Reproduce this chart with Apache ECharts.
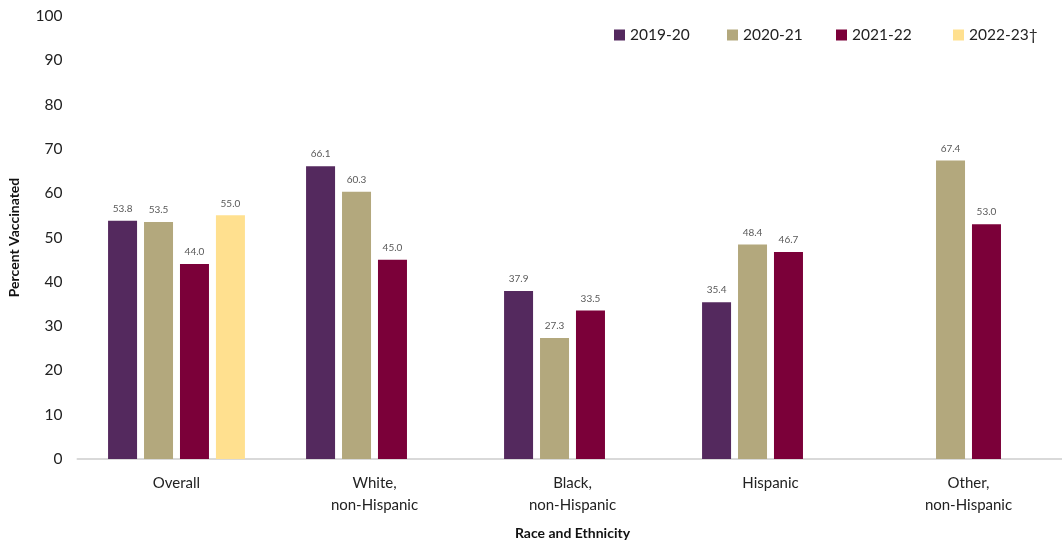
<!DOCTYPE html>
<html><head><meta charset="utf-8">
<script src="https://cdn.jsdelivr.net/npm/echarts@6/dist/echarts.min.js"></script>
<style>html,body{margin:0;padding:0;background:#fff}#c{width:1062px;height:540px}</style>
</head><body><div id="c"></div>
<script>
const categories = ['Overall', 'White,\nnon-Hispanic', 'Black,\nnon-Hispanic', 'Hispanic', 'Other,\nnon-Hispanic'];
const seriesNames = ['2019-20', '2020-21', '2021-22', '2022-23†'];
const s2019 = [53.8, 66.1, 37.9, 35.4, null];
const s2020 = [53.5, 60.3, 27.3, 48.4, 67.4];
const s2021 = [44.0, 45.0, 33.5, 46.7, 53.0];
const s2022 = [55.0, null, null, null, null];
const colors = ['#54295E', '#B3A87D', '#7B0039', '#FFE08F'];
const yTicks = [0, 10, 20, 30, 40, 50, 60, 70, 80, 90, 100];

const font = 'Lato, "Open Sans", sans-serif';
const data = [s2019, s2020, s2021, s2022];
const legendLefts = [614, 727, 836, 953];
const chart = echarts.init(document.getElementById('c'));
chart.setOption({
  animation: false,
  textStyle: { fontFamily: font },
  legend: seriesNames.map((n, i) => ({
    top: 27, left: legendLefts[i], padding: 0,
    itemWidth: 11, itemHeight: 11, itemGap: 0,
    icon: 'rect',
    textStyle: { fontSize: 15.5, color: '#222', fontFamily: font },
    data: [n]
  })),
  grid: { left: 77.5, width: 990, top: 16, bottom: 81, containLabel: false, outerBoundsMode: 'none' },
  xAxis: {
    type: 'category', data: categories,
    axisLine: { lineStyle: { color: '#d9d9d9', width: 2 } },
    axisTick: { show: false },
    axisLabel: { fontSize: 15, color: '#222', margin: 13, lineHeight: 22, fontFamily: font },
    name: 'Race and Ethnicity', nameLocation: 'middle', nameGap: 67,
    nameTextStyle: { fontSize: 14, fontWeight: 'bold', color: '#111', fontFamily: font }
  },
  yAxis: {
    type: 'value', min: 0, max: 100, interval: 10,
    axisLine: { show: false }, axisTick: { show: false },
    splitLine: { show: false },
    axisLabel: { fontSize: 15.5, color: '#222', margin: 15, fontFamily: font,
      formatter: v => yTicks.includes(v) ? String(v) : '' },
    name: 'Percent Vaccinated', nameLocation: 'middle', nameGap: 56, nameRotate: 90,
    nameTextStyle: { fontSize: 14, fontWeight: 'bold', color: '#111', fontFamily: font }
  },
  series: seriesNames.map((n, i) => ({
    name: n, type: 'bar', data: data[i],
    barWidth: 29, barGap: '24%',
    itemStyle: { color: colors[i] },
    label: { show: true, position: 'top', distance: 7, fontSize: 10, color: '#595959',
      fontFamily: font, formatter: p => p.value == null ? '' : Number(p.value).toFixed(1) }
  }))
});
</script></body></html>
